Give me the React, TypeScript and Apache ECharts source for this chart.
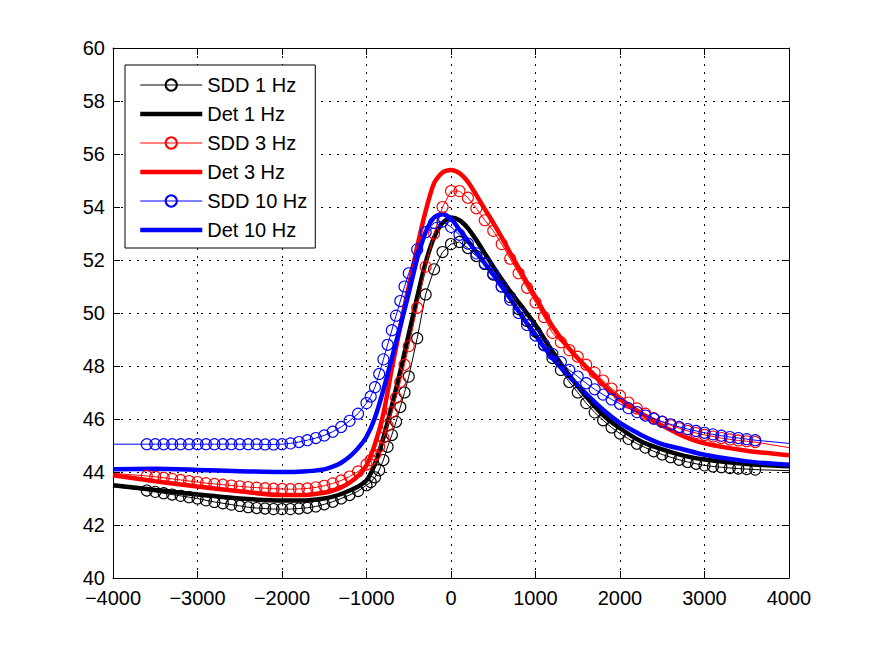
import React, { useEffect, useRef } from 'react';
import * as echarts from 'echarts';

const NAMES = ['SDD 1 Hz', 'Det 1 Hz', 'SDD 3 Hz', 'Det 3 Hz', 'SDD 10 Hz', 'Det 10 Hz'];

const SDD_X = [
  -4000,
  -3600, -3500, -3400, -3300, -3200, -3100, -3000, -2900, -2800, -2700, -2600, -2500, -2400,
  -2300, -2200, -2100, -2000, -1900, -1800, -1700, -1600, -1500, -1400, -1300, -1200, -1100,
  -1000, -950, -900, -850, -800, -750, -700, -650, -600, -550, -500,
  -400, -300, -200, -100, 0, 100, 200, 300, 400, 500, 600, 700, 800, 900, 1000, 1100, 1200,
  1300, 1400, 1500, 1600, 1700, 1800, 1900, 2000, 2100, 2200, 2300, 2400, 2500, 2600, 2700,
  2800, 2900, 3000, 3100, 3200, 3300, 3400, 3500, 3600,
  4000,
];

const SDD_1HZ = [
  43.45,
  43.3, 43.25, 43.2, 43.15, 43.1, 43.05, 43.0, 42.93, 42.87, 42.82, 42.77, 42.72, 42.67,
  42.64, 42.62, 42.6, 42.6, 42.6, 42.62, 42.65, 42.7, 42.78, 42.88, 43.0, 43.13, 43.28,
  43.5, 43.62, 43.8, 44.07, 44.45, 44.95, 45.4, 45.9, 46.45, 47.0, 47.6,
  49.05, 50.7, 51.65, 52.3, 52.6, 52.68, 52.45, 52.15, 51.85, 51.45, 51.0, 50.6, 50.15, 49.7, 49.3, 48.8, 48.3,
  47.85, 47.4, 47.0, 46.6, 46.25, 45.95, 45.68, 45.45, 45.25, 45.07, 44.92, 44.78, 44.66, 44.56, 44.46,
  44.38, 44.31, 44.25, 44.21, 44.18, 44.15, 44.13, 44.11, 44.09,
  44.05,
];

const SDD_3HZ = [
  43.95,
  43.85, 43.82, 43.78, 43.74, 43.7, 43.66, 43.62, 43.58, 43.55, 43.52, 43.49, 43.46, 43.43,
  43.41, 43.39, 43.37, 43.36, 43.35, 43.36, 43.38, 43.42, 43.48, 43.57, 43.68, 43.83, 44.02,
  44.28, 44.45, 44.65, 44.95, 45.3, 45.75, 46.25, 46.8, 47.4, 48.05, 48.75,
  50.2, 51.75, 53.0, 54.0, 54.6, 54.6, 54.35, 53.95, 53.5, 53.1, 52.6, 52.05, 51.5, 50.95, 50.4, 49.85, 49.25,
  48.9, 48.6, 48.35, 48.05, 47.75, 47.45, 47.15, 46.88, 46.62, 46.4, 46.2, 46.03, 45.89, 45.76, 45.65,
  45.55, 45.47, 45.4, 45.34, 45.28, 45.23, 45.19, 45.16, 45.13,
  44.92,
];

const SDD_10HZ = [
  45.05,
  45.05, 45.05, 45.05, 45.05, 45.05, 45.05, 45.05, 45.05, 45.05, 45.05, 45.05, 45.05, 45.05,
  45.05, 45.04, 45.04, 45.05, 45.08, 45.13, 45.2, 45.28, 45.38, 45.52, 45.7, 45.93, 46.2,
  46.6, 46.85, 47.2, 47.7, 48.25, 48.8, 49.35, 49.9, 50.45, 51.0, 51.5,
  52.4, 53.05, 53.4, 53.45, 53.25, 52.95, 52.62, 52.25, 51.88, 51.48, 51.0, 50.5, 50.0, 49.55, 49.15, 48.78, 48.45,
  48.15, 47.85, 47.6, 47.35, 47.12, 46.92, 46.74, 46.57, 46.41, 46.26, 46.13, 46.01, 45.9, 45.8, 45.7,
  45.62, 45.55, 45.48, 45.42, 45.37, 45.32, 45.28, 45.24, 45.2,
  45.08,
];

const DET_X = [
  -4000, -3500, -3000, -2500, -2000, -1750, -1500, -1400, -1300, -1200, -1100, -1000, -900,
  -800, -700, -600, -500, -400, -300, -200, -100, 0, 100, 200, 300, 400, 500, 600, 700, 800,
  900, 1000, 1200, 1400, 1600, 1800, 2000, 2250, 2500, 2750, 3000, 3500, 4000,
];

const DET_1HZ = [
  43.5, 43.32, 43.15, 43.0, 42.92, 42.92, 43.0, 43.07, 43.17, 43.3, 43.45, 43.68, 44.3,
  45.3, 46.5, 47.8, 49.2, 50.6, 51.9, 52.85, 53.4, 53.6, 53.5, 53.2, 52.75, 52.25, 51.75, 51.27, 50.82, 50.4,
  49.98, 49.55, 48.55, 47.65, 46.85, 46.15, 45.65, 45.15, 44.85, 44.62, 44.47, 44.3, 44.22,
];

const DET_3HZ = [
  43.88, 43.65, 43.45, 43.27, 43.13, 43.13, 43.22, 43.3, 43.42, 43.6, 43.85, 44.25, 45.05,
  46.2, 47.9, 49.5, 51.0, 52.5, 53.85, 54.9, 55.3, 55.4, 55.28, 54.95, 54.45, 53.92, 53.4, 52.85, 52.27, 51.7,
  51.15, 50.6, 49.5, 48.65, 47.95, 47.3, 46.75, 46.2, 45.75, 45.35, 45.08, 44.8, 44.63,
];

const DET_10HZ = [
  44.1, 44.12, 44.08, 44.03, 44.0, 44.02, 44.1, 44.2, 44.35, 44.58, 44.9, 45.33, 46.05,
  47.1, 48.3, 49.5, 50.75, 52.05, 53.05, 53.6, 53.75, 53.55, 53.15, 52.72, 52.3, 51.87, 51.45, 51.0, 50.55, 50.07,
  49.6, 49.15, 48.3, 47.6, 46.95, 46.35, 45.85, 45.4, 45.05, 44.85, 44.65, 44.4, 44.27,
];

const X_MIN = -4000;
const X_MAX = 4000;
const X_STEP = 1000;
const Y_MIN = 40;
const Y_MAX = 60;
const Y_STEP = 2;
const MARKER_FROM = -3600;
const MARKER_TO = 3600;

const FONT = '"Liberation Sans", Arial, Helvetica, sans-serif';

export default function App() {
  const ref = useRef<HTMLDivElement>(null);

  useEffect(() => {
    if (!ref.current) return;
    const chart = echarts.init(ref.current, null, { renderer: 'svg' });
    const fmt = (v: number) => String(v).replace('-', '\u2212');

    const sddData = (ys: number[]) =>
      SDD_X.map((x, i) =>
        x < MARKER_FROM || x > MARKER_TO ? { value: [x, ys[i]], symbol: 'none' } : [x, ys[i]]
      );
    const detData = (ys: number[]) => DET_X.map((x, i) => [x, ys[i]]);

    const sdd = (name: string, color: string, ys: number[]) => ({
      name,
      type: 'line',
      data: sddData(ys),
      symbol: 'circle',
      symbolSize: 11,
      showSymbol: true,
      showAllSymbol: true,
      lineStyle: { color, width: 1 },
      itemStyle: { color: 'rgba(255,255,255,0)', borderColor: color, borderWidth: 1.1 },
      emphasis: { disabled: true },
      silent: true,
    });
    const det = (name: string, color: string, ys: number[]) => ({
      name,
      type: 'line',
      data: detData(ys),
      symbol: 'none',
      showSymbol: false,
      smooth: 0.25,
      lineStyle: { color, width: 4.5 },
      itemStyle: { color },
      emphasis: { disabled: true },
      silent: true,
    });

    const legendItem = (name: string, color: string, isDet: boolean) =>
      isDet
        ? {
            name,
            lineStyle: { color, width: 4.5 },
            itemStyle: { opacity: 0 },
          }
        : {
            name,
            lineStyle: { color, width: 1 },
            itemStyle: { color: 'rgba(255,255,255,0)', borderColor: color, borderWidth: 2 },
          };

    const mainAxisCommon = {
      axisLine: { show: true, onZero: false, lineStyle: { color: '#000', width: 1 } },
      axisTick: { show: true, inside: true, length: 7, lineStyle: { color: '#000', width: 1 } },
      splitLine: { show: true, lineStyle: { color: '#000', width: 1, type: [2, 6] } },
    };
    const frameAxisCommon = {
      axisLine: { show: true, onZero: false, lineStyle: { color: '#000', width: 1 } },
      axisTick: { show: true, inside: true, length: 7, lineStyle: { color: '#000', width: 1 } },
      axisLabel: { show: false },
      splitLine: { show: false },
    };

    chart.setOption({
      animation: false,
      backgroundColor: '#ffffff',
      grid: { left: 113, right: 83, top: 48, bottom: 74, containLabel: false },
      xAxis: [
        {
          type: 'value',
          min: X_MIN,
          max: X_MAX,
          interval: X_STEP,
          position: 'bottom',
          ...mainAxisCommon,
          axisLabel: {
            fontSize: 20,
            lineHeight: 16,
            color: '#000',
            margin: 12,
            fontFamily: FONT,
            formatter: fmt,
          },
        },
        { type: 'value', min: X_MIN, max: X_MAX, interval: X_STEP, position: 'top', ...frameAxisCommon },
      ],
      yAxis: [
        {
          type: 'value',
          min: Y_MIN,
          max: Y_MAX,
          interval: Y_STEP,
          position: 'left',
          ...mainAxisCommon,
          axisLabel: { fontSize: 20, lineHeight: 16, color: '#000', margin: 8, fontFamily: FONT },
        },
        { type: 'value', min: Y_MIN, max: Y_MAX, interval: Y_STEP, position: 'right', ...frameAxisCommon },
      ],
      legend: {
        orient: 'vertical',
        left: 125,
        top: 65,
        padding: [10, 8, 8, 13],
        itemGap: 9,
        itemWidth: 62,
        itemHeight: 14,
        backgroundColor: '#ffffff',
        borderColor: '#000',
        borderWidth: 1,
        borderRadius: 0,
        selectedMode: false,
        textStyle: { fontSize: 20, color: '#000', fontFamily: FONT },
        data: [
          legendItem(NAMES[0], '#000000', false),
          legendItem(NAMES[1], '#000000', true),
          legendItem(NAMES[2], '#ff0000', false),
          legendItem(NAMES[3], '#ff0000', true),
          legendItem(NAMES[4], '#0000ff', false),
          legendItem(NAMES[5], '#0000ff', true),
        ],
      },
      series: [
        sdd(NAMES[0], '#000000', SDD_1HZ),
        det(NAMES[1], '#000000', DET_1HZ),
        sdd(NAMES[2], '#ff0000', SDD_3HZ),
        det(NAMES[3], '#ff0000', DET_3HZ),
        sdd(NAMES[4], '#0000ff', SDD_10HZ),
        det(NAMES[5], '#0000ff', DET_10HZ),
      ],
    });

    return () => chart.dispose();
  }, []);

  return (
    <div
      ref={ref}
      style={{ position: 'fixed', left: 0, top: 0, width: 872, height: 652, background: '#fff' }}
    />
  );
}
